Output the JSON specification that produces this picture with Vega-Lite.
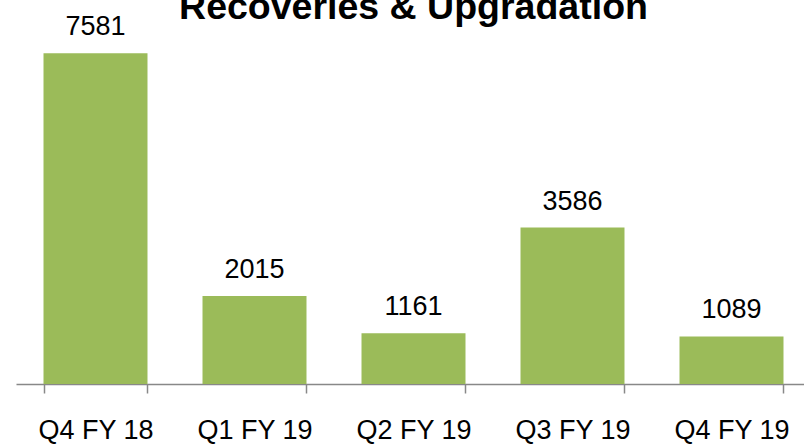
{
  "$schema": "https://vega.github.io/schema/vega-lite/v6.json",
  "autosize": {"type": "none"},
  "padding": {"left": 16, "top": 35, "right": 0, "bottom": 61},
  "width": 795,
  "height": 349,
  "background": "white",
  "title": {
    "text": "Recoveries & Upgradation",
    "font": "Liberation Sans",
    "fontWeight": "bold",
    "fontSize": 37.5,
    "color": "#000000",
    "anchor": "middle",
    "baseline": "alphabetic",
    "offset": -43
  },
  "data": {
    "values": [
      {"quarter": "Q4 FY 18", "value": 7581},
      {"quarter": "Q1 FY 19", "value": 2015},
      {"quarter": "Q2 FY 19", "value": 1161},
      {"quarter": "Q3 FY 19", "value": 3586},
      {"quarter": "Q4 FY 19", "value": 1089}
    ]
  },
  "encoding": {
    "x": {
      "field": "quarter",
      "type": "nominal",
      "sort": null,
      "scale": {"paddingInner": 0.346, "paddingOuter": 0.173},
      "axis": {
        "title": null,
        "labelAngle": 0,
        "labelFont": "Liberation Sans",
        "labelFontSize": 27,
        "labelColor": "#000000",
        "labelPadding": 24,
        "domainColor": "#888888",
        "domainWidth": 1.5,
        "tickColor": "#888888",
        "tickWidth": 1.5,
        "tickSize": 9,
        "tickBand": "extent",
        "grid": false
      }
    },
    "y": {
      "field": "value",
      "type": "quantitative",
      "scale": {"domain": [0, 8000], "nice": false},
      "axis": null
    }
  },
  "layer": [
    {"mark": {"type": "bar", "color": "#9BBB59"}},
    {
      "mark": {
        "type": "text",
        "baseline": "alphabetic",
        "dy": -18,
        "font": "Liberation Sans",
        "fontSize": 27,
        "color": "#000000"
      },
      "encoding": {"text": {"field": "value", "type": "quantitative", "format": "d"}}
    }
  ],
  "config": {"view": {"stroke": null}}
}
